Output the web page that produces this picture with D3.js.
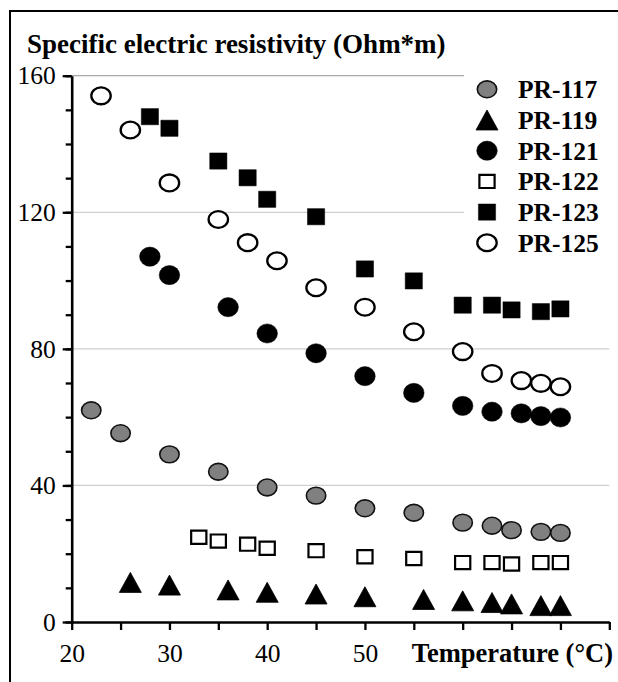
<!DOCTYPE html>
<html>
<head>
<meta charset="utf-8">
<script src="https://cdn.jsdelivr.net/npm/d3@7"></script>
<style>
  html, body { margin: 0; padding: 0; background: #fff; }
  svg { display: block; }
</style>
</head>
<body>
<svg id="chart"></svg>
<script>
// data
const seriesNames = ["PR-117", "PR-119", "PR-121", "PR-122", "PR-123", "PR-125"]

const temps117 = [22, 25, 30, 35, 40, 45, 50, 55, 60, 63, 65, 68, 70]
const pr117 = [62, 55.3, 49.1, 44, 39.4, 37, 33.3, 32, 29.1, 28.2, 26.9, 26.4, 26.1]

const temps119 = [26, 30, 36, 40, 45, 50, 56, 60, 63, 65, 68, 70]
const pr119 = [11.6, 10.8, 9.4, 8.7, 8.2, 7.4, 6.6, 6.2, 5.7, 5.3, 4.8, 4.8]

const temps121 = [28, 30, 36, 40, 45, 50, 55, 60, 63, 66, 68, 70]
const pr121 = [107, 101.6, 92.2, 84.5, 78.7, 72, 67.1, 63.3, 61.6, 61.1, 60.3, 59.9]

const temps122 = [33, 35, 38, 40, 45, 50, 55, 60, 63, 65, 68, 70]
const pr122 = [24.8, 23.7, 22.8, 21.6, 20.9, 19.1, 18.6, 17.4, 17.4, 17, 17.4, 17.4]

const temps123 = [28, 30, 35, 38, 40, 45, 50, 55, 60, 63, 65, 68, 70]
const pr123 = [148, 144.6, 135, 130.1, 123.8, 118.7, 103.4, 99.9, 92.8, 92.8, 91.4, 90.9, 91.7]

const temps125 = [23, 26, 30, 35, 38, 41, 45, 50, 55, 60, 63, 66, 68, 70]
const pr125 = [154.1, 144.1, 128.6, 117.9, 111.1, 105.8, 97.9, 92.2, 85, 79.2, 72.8, 70.7, 69.9, 68.9]

const xTicks = [20, 25, 30, 35, 40, 45, 50, 55, 60, 65, 70, 75]
const xTickLabels = [20, 30, 40, 50]
const yTicks = [0, 40, 80, 120, 160]
const yMinorTicks = [0, 10, 20, 30, 40, 50, 60, 70, 80, 90, 100, 110, 120, 130, 140, 150, 160]
const gridValues = [40, 80, 120, 160]

// svg container
const w = 618
const h = 682
const svg = d3.select('#chart')
  .attr('width', w)
  .attr('height', h)
  .style('font-family', '"Liberation Serif", "Times New Roman", serif')

svg.append('rect')
  .attr('width', w).attr('height', h)
  .attr('fill', '#fff')

// outer frame (cut off on the right and bottom like the scan)
svg.append('rect')
  .attr('x', 10).attr('y', 11)
  .attr('width', 700).attr('height', 700)
  .attr('fill', 'none')
  .attr('stroke', '#000')
  .attr('stroke-width', 2)

// scaling
const xScale = d3.scaleLinear().domain([20, 75]).range([71.7, 609.3])
const yScale = d3.scaleLinear().domain([0, 160]).range([622, 75.7])

// grid
svg.append('g')
  .selectAll('line')
  .data(gridValues)
  .join('line')
  .attr('x1', xScale(20))
  .attr('x2', xScale(75))
  .attr('y1', d => yScale(d))
  .attr('y2', d => yScale(d))
  .attr('stroke', d => d === 160 ? '#a8a8a8' : '#cfcfcf')
  .attr('stroke-width', 1.3)

// legend backing hides the grid behind it
svg.append('rect')
  .attr('x', 464).attr('y', 68)
  .attr('width', 160).attr('height', 190)
  .attr('fill', '#fff')

// axes
const yMinor = svg.append('g')
  .attr('transform', `translate(${xScale(20)},0)`)
  .call(d3.axisLeft(yScale).tickValues(yMinorTicks).tickSize(6).tickSizeOuter(0).tickFormat(''))
yMinor.select('.domain').remove()
yMinor.selectAll('line').attr('stroke-width', 2.3)

const yAxis = svg.append('g')
  .attr('transform', `translate(${xScale(20)},0)`)
  .call(d3.axisLeft(yScale).tickValues(yTicks).tickSize(9).tickSizeOuter(0).tickPadding(7))
yAxis.select('.domain').attr('stroke-width', 2.6)
yAxis.selectAll('line').attr('stroke-width', 2.3)
yAxis.selectAll('text')
  .style('font-size', '25.5px')
  .style('font-family', '"Liberation Serif", serif')
  .attr('fill', '#000')

const xAxis = svg.append('g')
  .attr('transform', `translate(0,${yScale(0)})`)
  .call(d3.axisBottom(xScale).tickValues(xTicks).tickSize(8).tickSizeOuter(0)
    .tickFormat(d => xTickLabels.includes(d) ? d : ''))
xAxis.select('.domain').attr('stroke-width', 2.6)
xAxis.selectAll('line').attr('stroke-width', 2.3)
xAxis.selectAll('text')
  .attr('y', 22)
  .style('font-size', '25.5px')
  .style('font-family', '"Liberation Serif", serif')
  .attr('fill', '#000')

// marker shapes, drawn around 0,0
const ellipse = (rx, ry) =>
  `M${-rx},0A${rx},${ry} 0 1,0 ${rx},0A${rx},${ry} 0 1,0 ${-rx},0Z`
const rectPath = (hw, hh) => `M${-hw},${-hh}H${hw}V${hh}H${-hw}Z`
const triPath = (hw, hh) => `M0,${-hh}L${hw},${hh}L${-hw},${hh}Z`

const styles = [
  { d: ellipse(9.7, 8.4), fill: '#808080', stroke: '#111', sw: 1.6 },
  { d: triPath(11, 10), fill: '#000', stroke: '#000', sw: 0.8 },
  { d: ellipse(10.3, 9.6), fill: '#000', stroke: '#000', sw: 0.5 },
  { d: rectPath(7.6, 6.6), fill: '#fff', stroke: '#000', sw: 2.2 },
  { d: rectPath(8.6, 8.1), fill: '#000', stroke: '#000', sw: 0.5 },
  { d: ellipse(9.7, 8.4), fill: '#fff', stroke: '#000', sw: 2.3 }
]

const series = [
  [temps117, pr117], [temps119, pr119], [temps121, pr121],
  [temps122, pr122], [temps123, pr123], [temps125, pr125]
]

// draw data
series.forEach(([ts, vs], i) => {
  const st = styles[i]
  svg.append('g')
    .selectAll('path')
    .data(ts.map((t, j) => ({ t, v: vs[j] })))
    .join('path')
    .attr('d', st.d)
    .attr('transform', d => `translate(${xScale(d.t)},${yScale(d.v)})`)
    .attr('fill', st.fill)
    .attr('stroke', st.stroke)
    .attr('stroke-width', st.sw)
})

// legend
const legend = svg.append('g')
const rows = legend.selectAll('g')
  .data(seriesNames)
  .join('g')
  .attr('transform', (d, i) => `translate(487,${89.3 + i * 30.7})`)
rows.append('path')
  .attr('d', (d, i) => styles[i].d)
  .attr('fill', (d, i) => styles[i].fill)
  .attr('stroke', (d, i) => styles[i].stroke)
  .attr('stroke-width', (d, i) => styles[i].sw)
rows.append('text')
  .attr('x', 31)
  .attr('dy', '0.35em')
  .style('font-size', '25.5px')
  .style('font-weight', 'bold')
  .text(d => d)

// titles
svg.append('text')
  .attr('x', 27).attr('y', 53)
  .style('font-size', '27px')
  .style('font-weight', 'bold')
  .text('Specific electric resistivity (Ohm*m)')

svg.append('text')
  .attr('x', 613).attr('y', 662)
  .attr('text-anchor', 'end')
  .style('font-size', '26.5px')
  .style('font-weight', 'bold')
  .text('Temperature (°C)')
</script>
</body>
</html>
